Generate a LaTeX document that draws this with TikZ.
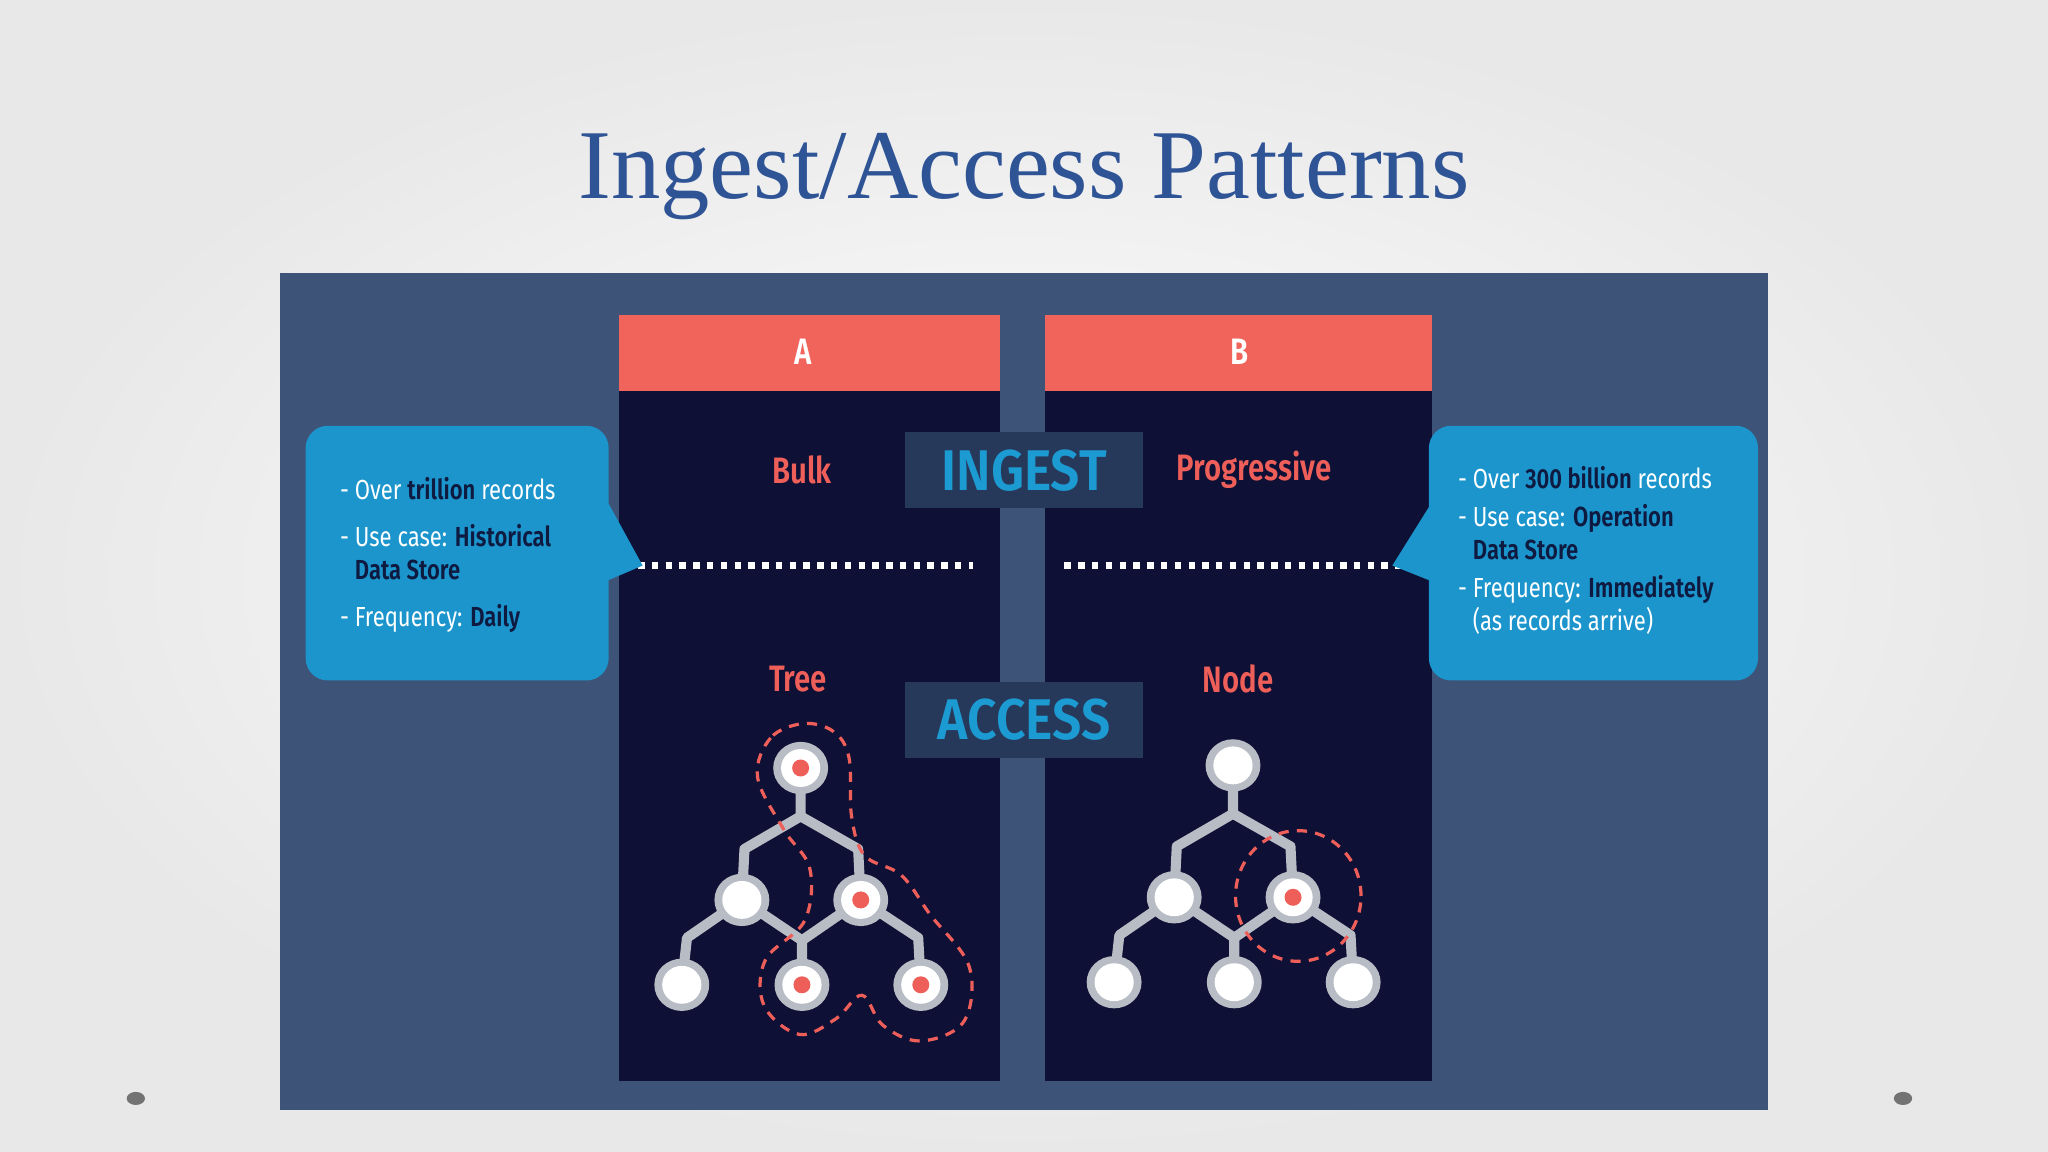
\documentclass[tikz,border=0pt]{standalone}
\usepackage{fontspec}
\setmainfont{Liberation Serif}
\newfontfamily\cond[FakeStretch=0.8]{Fira Sans}
\newfontfamily\condb[FakeStretch=0.8]{Fira Sans SemiBold}
\newfontfamily\tagfont[FakeStretch=0.9]{Fira Sans SemiBold}
\definecolor{titleblue}{HTML}{2F5496}
\definecolor{panel}{HTML}{3E5378}
\definecolor{colbg}{HTML}{0E1035}
\definecolor{hdr}{HTML}{F0645C}
\definecolor{bubble}{HTML}{1B95CC}
\definecolor{navy}{HTML}{0E1A40}
\definecolor{tag}{HTML}{27395A}
\definecolor{tagtext}{HTML}{1C9AD2}
\definecolor{nodegray}{HTML}{B8BCC4}
\definecolor{redtxt}{HTML}{EF5F5A}
\tikzset{
  lbl/.style={font=\condb\fontsize{8}{9}\selectfont, text=redtxt},
  tagbox/.style={fill=tag, minimum width=1.82cm, minimum height=0.58cm, inner sep=0, text=tagtext, font=\tagfont\fontsize{12.5}{13}\selectfont},
  bub/.style={fill=bubble, rounded corners=0.17cm},
  btext/.style={font=\cond\fontsize{6}{7.2}\selectfont, text=white, align=left, anchor=north west},
  edge/.style={draw=nodegray, line width=2.2pt, line join=round},
  dots/.style={draw=white, line width=1.4pt, dash pattern=on 1.4pt off 1.6pt},
  contour/.style={draw=redtxt, line width=0.7pt, dash pattern=on 2.2pt off 1.8pt}
}
\newcommand{\tnode}[1]{%
  \fill[nodegray] (#1) ellipse (0.21cm and 0.2cm);
  \fill[white] (#1) ellipse (0.15cm and 0.145cm);}
\newcommand{\tdot}[1]{\fill[redtxt] (#1) circle (0.065cm);}
\begin{document}
\begin{tikzpicture}[x=0.01cm,y=-0.01cm]
\useasboundingbox (0,0) rectangle (1568,882);
\shade[inner color=white, outer color=black!9] (0,0) rectangle (1568,882);
\node[text=titleblue, font=\fontsize{21.5}{24}\selectfont] (title) at (784,135) {Ingest/Access Patterns};
\fill[panel] (214,209) rectangle (1354,850);
\fill[black!55] (104,841) ellipse (0.07cm and 0.05cm);
\fill[black!55] (1457,841) ellipse (0.07cm and 0.05cm);
% columns
\fill[colbg] (474,241) rectangle (766,828);
\fill[colbg] (800,241) rectangle (1096,828);
\fill[hdr] (474,241) rectangle (766,299);
\fill[hdr] (800,241) rectangle (1096,299);
\node[text=white, font=\condb\fontsize{8}{9}\selectfont] (A) at (615,269) {A};
\node[text=white, font=\condb\fontsize{8}{9}\selectfont] (B) at (949,269) {B};
\node[tagbox] (ingest) at (784,360) {INGEST};
\node[tagbox] (access) at (784,551) {ACCESS};
\node[lbl] (bulk) at (614,360) {Bulk};
\node[lbl] (prog) at (960,360) {Progressive};
\node[lbl] (tree) at (611,520) {Tree};
\node[lbl] (nd) at (948,520) {Node};
\coordinate (d1) at (478,433); \coordinate (d2) at (745,433);
\coordinate (d3) at (815,433); \coordinate (d4) at (1090,433);
\draw[dots] (d1) -- (d2);
\draw[dots] (d3) -- (d4);
% bubbles
\fill[bub] (234,326) rectangle (466,521);
\fill[bubble] (464,382) -- (492,433) -- (464,445) -- cycle;
\fill[bub] (1094,326) rectangle (1346,521);
\fill[bubble] (1096,385) -- (1066,433) -- (1096,445) -- cycle;
\node[btext] (lt) at (248,353) {- Over \textcolor{navy}{\condb trillion} records\\[3pt]
- Use case: \textcolor{navy}{\condb Historical}\\
\phantom{- }\textcolor{navy}{\condb Data Store}\\[3pt]
- Frequency: \textcolor{navy}{\condb Daily}};
\node[btext] (rt) at (1104,345) {- Over \textcolor{navy}{\condb 300 billion} records\\[1pt]
- Use case: \textcolor{navy}{\condb Operation}\\
\phantom{- }\textcolor{navy}{\condb Data Store}\\[1pt]
- Frequency: \textcolor{navy}{\condb Immediately}\\
\phantom{- }(as records arrive)};
% left tree
\coordinate (r) at (613,588); \coordinate (m1) at (568,689); \coordinate (m2) at (659,689);
\coordinate (l1) at (522,754); \coordinate (l2) at (614,754); \coordinate (l3) at (705,754);
\draw[edge] (r) -- (613,625) -- (570,650) -- (m1);
\draw[edge] (613,625) -- (657,650) -- (m2);
\draw[edge] (m1) -- (526,718) -- (l1);
\draw[edge] (m1) -- (614,720) -- (l2);
\draw[edge] (m2) -- (614,720);
\draw[edge] (m2) -- (703,718) -- (l3);
\foreach \p in {r,m1,m2,l1,l2,l3} {\tnode{\p}}
\foreach \p in {r,m2,l2,l3} {\tdot{\p}}
\draw[contour] plot[smooth cycle, tension=0.6] coordinates {(615,554) (590,565) (580,595) (600,635) (620,665) (616,705) (586,735) (585,770) (612,792) (640,780) (660,762) (676,785) (705,797) (738,782) (742,740) (712,700) (690,670) (662,655) (652,625) (650,580) (638,560)};
% right tree
\coordinate (R) at (944,586); \coordinate (M1) at (899,687); \coordinate (M2) at (990,687);
\coordinate (L1) at (853,752); \coordinate (L2) at (945,752); \coordinate (L3) at (1036,752);
\draw[edge] (R) -- (944,623) -- (901,648) -- (M1);
\draw[edge] (944,623) -- (988,648) -- (M2);
\draw[edge] (M1) -- (857,716) -- (L1);
\draw[edge] (M1) -- (945,718) -- (L2);
\draw[edge] (M2) -- (945,718);
\draw[edge] (M2) -- (1034,716) -- (L3);
\foreach \p in {R,M1,M2,L1,L2,L3} {\tnode{\p}}
\tdot{M2}
\draw[contour] (994,686) ellipse (0.48cm and 0.5cm);
\end{tikzpicture}
\end{document}
